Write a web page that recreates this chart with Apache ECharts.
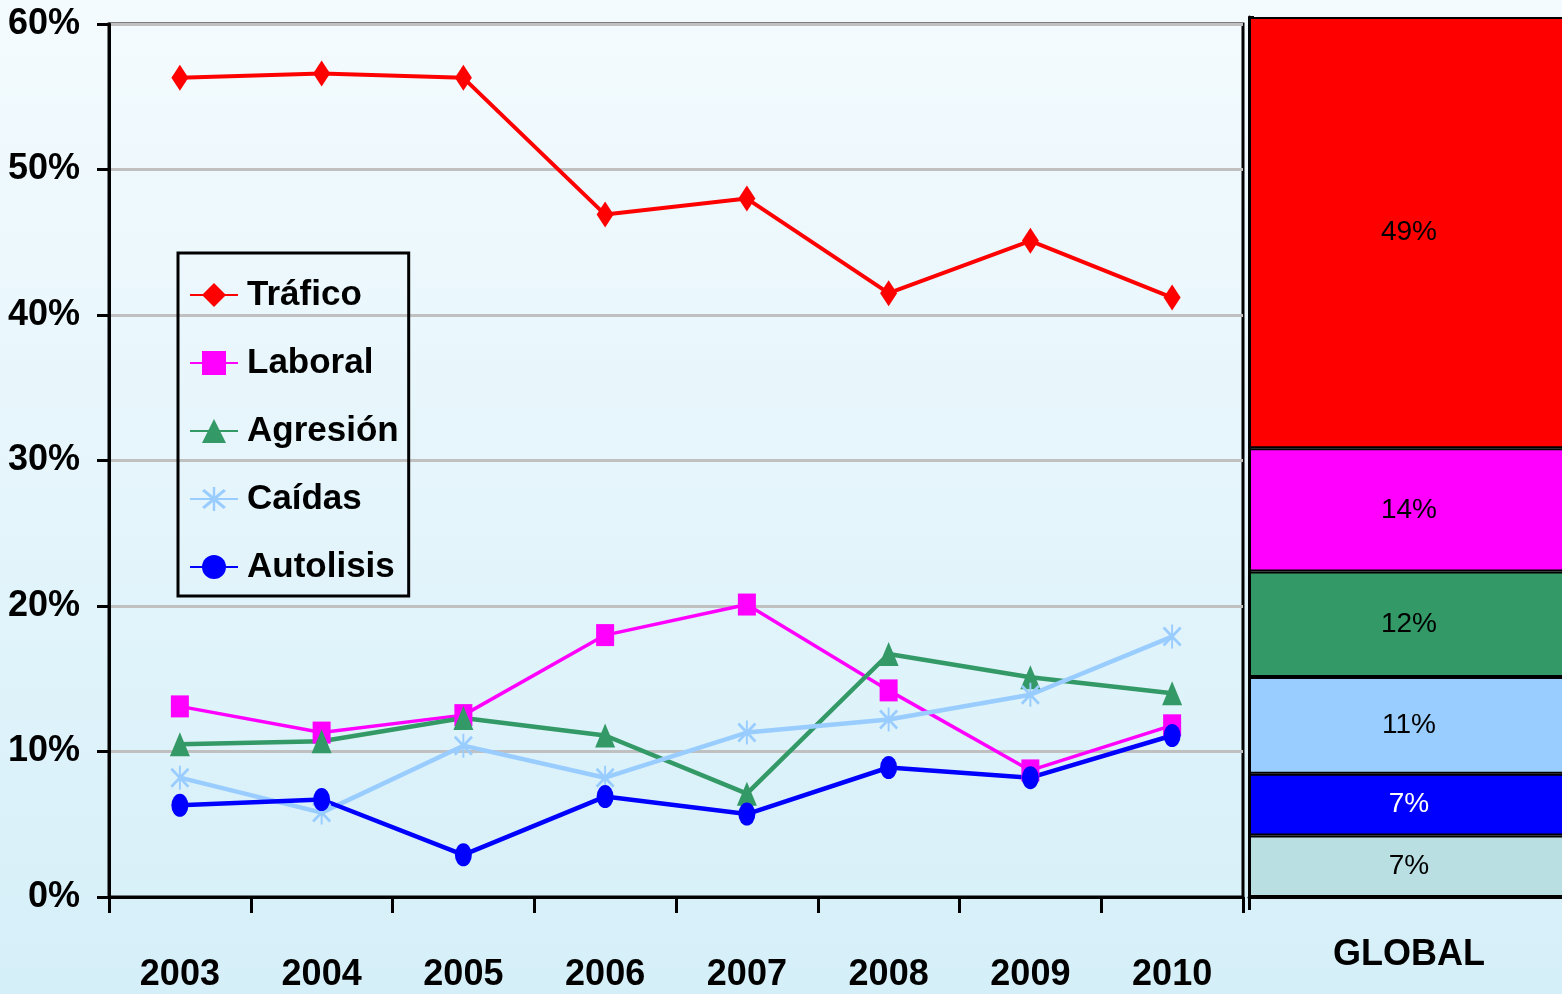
<!DOCTYPE html>
<html>
<head>
<meta charset="utf-8">
<title>Lesiones por causa 2003-2010</title>
<script src="https://cdn.jsdelivr.net/npm/echarts@6/dist/echarts.min.js"></script>
<style>
  html, body { margin: 0; padding: 0; }
  #chart { width: 1562px; height: 994px; }
</style>
</head>
<body>
<div id="chart"></div>
<script>
// Years on the category axis
const years = ['2003', '2004', '2005', '2006', '2007', '2008', '2009', '2010'];

// Yearly share of each cause (%)
const trafico   = [56.3, 56.6, 56.3, 46.9, 48.0, 41.5, 45.1, 41.2];
const laboral   = [13.1, 11.3, 12.5, 18.0, 20.1, 14.2, 8.7, 11.8];
const agresion  = [10.5, 10.7, 12.3, 11.1, 7.1, 16.7, 15.1, 14.0];
const caidas    = [8.2, 5.8, 10.4, 8.2, 11.3, 12.2, 13.9, 17.9];
const autolisis = [6.3, 6.7, 2.9, 6.9, 5.7, 8.9, 8.2, 11.1];

// Overall share for the whole period (%), bottom to top of the stacked column
const globalLabel = ['GLOBAL'];
const globalOtros = [7];
const globalAutolisis = [7];
const globalCaidas = [11];
const globalAgresion = [12];
const globalLaboral = [14];
const globalTrafico = [49];

const yTicks = { min: 0, max: 60, interval: 10 };

const sans = "'Liberation Sans', Arial, sans-serif";

// eight-spoke asterisk marker (vertical stroke plus an X)
const asterisk = 'path://M9,0 L11,0 L11,24 L9,24 Z M0,4 L2,2 L20,20 L18,22 Z M18,2 L20,4 L2,22 L0,20 Z';

function lineSeries(name, data, color, symbol, size, width) {
  return {
    name: name,
    type: 'line',
    xAxisIndex: 0,
    yAxisIndex: 0,
    data: data,
    symbol: symbol,
    symbolSize: size,
    showSymbol: true,
    lineStyle: { color: color, width: width },
    itemStyle: { color: color },
    z: 3
  };
}

function barSeries(id, data, color, labelColor) {
  return {
    id: id,
    type: 'bar',
    xAxisIndex: 1,
    yAxisIndex: 1,
    stack: 'global',
    data: data,
    barWidth: '100%',
    itemStyle: { color: color, borderColor: '#000', borderWidth: 2 },
    label: {
      show: true,
      position: 'inside',
      formatter: '{c}%',
      color: labelColor,
      fontFamily: sans,
      fontSize: 28
    }
  };
}

const chart = echarts.init(document.getElementById('chart'));
chart.setOption({
  animation: false,
  backgroundColor: new echarts.graphic.LinearGradient(0, 0, 0, 1, [
    { offset: 0, color: '#f4fbfe' },
    { offset: 1, color: '#d5eff8' }
  ]),
  grid: [
    { left: 109, top: 24, width: 1134, height: 873, outerBoundsMode: 'none', containLabel: false,
      show: true, borderColor: '#000', borderWidth: 3, backgroundColor: 'transparent' },
    { left: 1249, top: 17, width: 320, height: 880, outerBoundsMode: 'none', containLabel: false }
  ],
  legend: {
    data: ['Tráfico', 'Laboral', 'Agresión', 'Caídas', 'Autolisis'],
    orient: 'vertical',
    left: 178,
    top: 253,
    padding: [21, 10, 8, 11],
    itemGap: 26,
    itemWidth: 48,
    itemHeight: 30,
    borderColor: '#000',
    borderWidth: 3,
    selectedMode: false,
    textStyle: {
      fontFamily: sans,
      fontWeight: 'bold',
      fontSize: 35,
      lineHeight: 42,
      color: '#000',
      padding: [0, 0, 0, 4]
    }
  },
  xAxis: [
    {
      gridIndex: 0,
      type: 'category',
      data: years,
      boundaryGap: true,
      axisLine: { lineStyle: { color: '#000', width: 3 } },
      axisTick: { show: true, length: 16, lineStyle: { color: '#000', width: 3 } },
      axisLabel: { interval: 0, margin: 60, color: '#000', fontFamily: sans, fontWeight: 'bold', fontSize: 36 }
    },
    {
      gridIndex: 1,
      type: 'category',
      data: globalLabel,
      boundaryGap: true,
      axisLine: { lineStyle: { color: '#000', width: 3 } },
      axisTick: { show: true, length: 13, lineStyle: { color: '#000', width: 3 } },
      axisLabel: { margin: 40, color: '#000', fontFamily: sans, fontWeight: 'bold', fontSize: 36 }
    }
  ],
  yAxis: [
    {
      gridIndex: 0,
      type: 'value',
      min: yTicks.min,
      max: yTicks.max,
      interval: yTicks.interval,
      axisLine: { show: true, lineStyle: { color: '#000', width: 3 } },
      axisTick: { show: true, length: 12, lineStyle: { color: '#000', width: 3 } },
      axisLabel: { margin: 29, color: '#000', fontFamily: sans, fontWeight: 'bold', fontSize: 36, formatter: '{value}%' },
      splitLine: { show: true, lineStyle: { color: '#c0c0c0', width: 3 } }
    },
    {
      gridIndex: 1,
      type: 'value',
      min: 0,
      max: 100,
      interval: 10,
      axisLine: { show: true, lineStyle: { color: '#000', width: 3 } },
      axisTick: { show: true, inside: true, length: 5, lineStyle: { color: '#000', width: 2 } },
      axisLabel: { show: false },
      splitLine: { show: false }
    }
  ],
  series: [
    lineSeries('Tráfico', trafico, '#ff0000', 'diamond', [17, 26], 4),
    lineSeries('Laboral', laboral, '#ff00ff', 'rect', [18, 22], 3.5),
    lineSeries('Agresión', agresion, '#339966', 'triangle', [20, 24], 4.5),
    lineSeries('Caídas', caidas, '#99ccff', asterisk, [19, 24], 4.5),
    lineSeries('Autolisis', autolisis, '#0000ff', 'circle', [17, 23], 4.5),
    barSeries('global-otros', globalOtros, '#b9dfe2', '#000'),
    barSeries('global-autolisis', globalAutolisis, '#0000ff', '#fff'),
    barSeries('global-caidas', globalCaidas, '#99ccff', '#000'),
    barSeries('global-agresion', globalAgresion, '#339966', '#000'),
    barSeries('global-laboral', globalLaboral, '#ff00ff', '#000'),
    barSeries('global-trafico', globalTrafico, '#ff0000', '#000')
  ]
});
</script>
</body>
</html>
